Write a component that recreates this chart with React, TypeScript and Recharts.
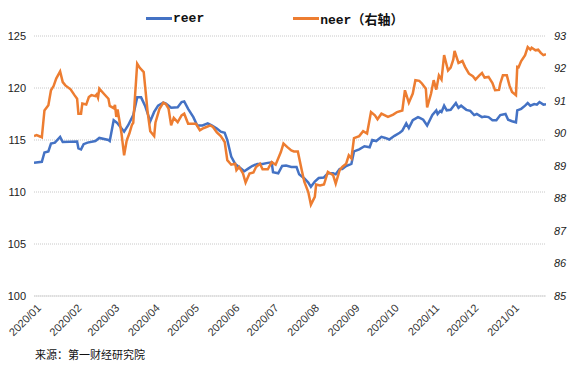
import React from "react";
import { LineChart, Line, XAxis, YAxis, CartesianGrid } from "recharts";

// x values: day offsets from 2020-01-01
const reerDay = [0, 6, 8, 11, 13, 16, 20, 22, 33, 34, 36, 38, 41, 47, 50, 57, 58, 61, 63, 64, 69, 72, 76, 79, 82, 85, 89, 92, 95, 99, 101, 105, 110, 113, 115, 118, 122, 125, 129, 133, 136, 140, 143, 146, 148, 151, 154, 157, 161, 164, 167, 171, 175, 179, 182, 183, 187, 190, 193, 197, 201, 203, 207, 210, 212, 215, 218, 222, 225, 229, 231, 234, 236, 239, 243, 245, 249, 253, 257, 259, 262, 266, 269, 272, 276, 280, 282, 285, 287, 290, 294, 295, 298, 301, 305, 308, 309, 311, 312, 314, 316, 319, 323, 325, 327, 331, 334, 337, 339, 343, 345, 348, 351, 354, 357, 361, 363, 366, 369, 370, 373, 376, 378, 380, 383, 385, 387, 390, 392];
const reerVal = [112.8, 112.9, 113.8, 113.9, 114.65, 114.75, 115.3, 114.8, 114.85, 114.2, 114.1, 114.6, 114.75, 114.9, 115.2, 115.0, 114.9, 116.9, 116.7, 116.6, 115.8, 116.4, 117.4, 119.1, 119.1, 118.3, 116.8, 117.7, 118.3, 118.6, 118.5, 118.1, 118.15, 118.65, 118.7, 118.0, 117.2, 116.4, 116.4, 116.6, 116.4, 116.1, 115.8, 115.7, 115.0, 113.4, 112.7, 112.4, 112.0, 112.25, 112.5, 112.7, 112.7, 112.8, 112.85, 111.9, 111.8, 112.5, 112.55, 112.4, 112.4, 111.7, 111.3, 110.9, 110.5, 111.0, 111.35, 111.4, 111.8, 111.8, 111.7, 112.2, 112.2, 112.5, 112.7, 113.9, 114.1, 114.4, 114.3, 115.0, 114.9, 115.3, 115.2, 115.05, 115.4, 115.7, 115.9, 116.6, 116.15, 116.9, 117.2, 117.15, 116.95, 116.4, 117.4, 117.85, 117.5, 117.8, 117.7, 118.3, 117.85, 117.9, 118.55, 118.1, 118.3, 117.9, 117.8, 117.4, 117.5, 117.2, 117.25, 117.2, 116.9, 116.9, 117.4, 117.5, 116.95, 116.8, 116.7, 117.85, 118.0, 118.3, 118.55, 118.3, 118.45, 118.4, 118.65, 118.4, 118.45];

const neerDay = [0, 2, 5, 6, 8, 11, 13, 15, 17, 20, 22, 24, 28, 31, 33, 34, 36, 37, 40, 42, 44, 47, 48, 49, 50, 54, 57, 58, 61, 62, 63, 64, 67, 69, 71, 73, 75, 76, 79, 81, 84, 85, 87, 89, 92, 93, 96, 99, 101, 103, 105, 107, 110, 113, 115, 118, 124, 127, 129, 132, 135, 137, 140, 143, 146, 148, 151, 154, 155, 157, 160, 162, 165, 168, 170, 173, 175, 179, 182, 185, 189, 191, 194, 197, 199, 202, 205, 207, 210, 212, 215, 216, 219, 222, 225, 227, 229, 231, 234, 236, 239, 241, 243, 245, 249, 252, 255, 258, 261, 263, 266, 271, 275, 278, 282, 284, 287, 290, 292, 295, 297, 300, 301, 304, 306, 308, 310, 312, 314, 317, 319, 321, 322, 325, 328, 330, 333, 336, 338, 341, 343, 345, 348, 351, 353, 356, 357, 359, 362, 364, 366, 369, 370, 371, 373, 376, 378, 380, 381, 384, 386, 388, 390, 392];
const neerVal = [89.92, 89.95, 89.9, 89.88, 90.71, 90.87, 91.33, 91.46, 91.69, 91.91, 91.58, 91.48, 91.36, 91.18, 91.07, 90.61, 90.61, 90.92, 90.89, 91.12, 91.18, 91.15, 91.2, 91.1, 91.38, 91.2, 91.07, 90.85, 90.78, 90.88, 90.51, 90.74, 90.0, 89.33, 89.79, 90.0, 90.27, 90.33, 92.15, 92.02, 91.89, 91.48, 90.66, 90.07, 89.92, 90.34, 90.75, 90.95, 90.9, 90.77, 90.25, 90.48, 90.35, 90.56, 90.61, 90.3, 90.3, 90.1, 90.15, 90.2, 90.25, 90.2, 90.03, 89.92, 89.74, 89.18, 89.04, 89.07, 88.87, 88.97, 88.77, 88.49, 88.77, 88.8, 88.97, 89.07, 88.9, 88.9, 89.12, 89.04, 89.43, 89.69, 89.58, 89.48, 89.45, 89.45, 88.87, 88.51, 88.2, 87.81, 88.05, 88.43, 88.4, 88.43, 88.82, 88.77, 88.72, 88.46, 88.87, 88.97, 89.07, 89.33, 89.23, 89.86, 89.92, 90.07, 90.0, 90.66, 90.56, 90.44, 90.61, 90.51, 90.58, 90.66, 90.71, 91.33, 90.95, 91.23, 91.64, 91.62, 91.54, 91.38, 90.8, 91.23, 91.64, 91.35, 91.79, 91.66, 92.41, 91.94, 92.03, 92.27, 92.54, 92.17, 92.23, 92.05, 91.84, 91.76, 91.66, 91.79, 91.86, 91.72, 91.74, 91.55, 91.33, 91.34, 91.54, 91.79, 91.79, 91.48, 91.28, 91.18, 92.05, 92.04, 92.23, 92.41, 92.66, 92.58, 92.64, 92.56, 92.58, 92.48, 92.41, 92.44];

const monthTickDays = [0, 31, 60, 91, 121, 152, 182, 213, 244, 274, 305, 335, 366];
const monthTickLabels = ["2020/01", "2020/02", "2020/03", "2020/04", "2020/05", "2020/06", "2020/07", "2020/08", "2020/09", "2020/10", "2020/11", "2020/12", "2021/01"];
const leftTicks = [100, 105, 110, 115, 120, 125];
const rightTicks = [85, 86, 87, 88, 89, 90, 91, 92, 93];

const reerName = "reer";
const neerName = "neer（右轴）";
const sourceText = "来源：第一财经研究院";

const BLUE = "#4472C4";
const ORANGE = "#ED7D31";

function zip(days: number[], vals: number[]) {
  const n = Math.min(days.length, vals.length);
  const out: { d: number; v: number }[] = [];
  for (let i = 0; i < n; i++) out.push({ d: days[i], v: vals[i] });
  return out;
}

const reerData = zip(reerDay, reerVal);
const neerData = zip(neerDay, neerVal);

const XTick = (props: any) => {
  const { x, y, payload } = props;
  const idx = monthTickDays.indexOf(payload.value);
  const label = idx >= 0 ? monthTickLabels[idx] : "";
  return (
    <g transform={`translate(${x + 5},${y + 2})`}>
      <text
        textAnchor="end"
        transform="rotate(-45)"
        fontSize={11}
        fill="#333"
        fontFamily="'Liberation Sans', Arial, sans-serif"
        dy="0.35em"
      >
        {label}
      </text>
    </g>
  );
};

export default function App() {
  return (
    <div style={{ position: "absolute", left: 0, top: 0, width: 574, height: 367, background: "#fff" }}>
      <LineChart
        width={574}
        height={367}
        margin={{ top: 36, right: 0, bottom: 0, left: 0 }}
      >
        <CartesianGrid
          yAxisId="left"
          vertical={false}
          stroke="#c8c8c8"
          strokeDasharray="1 1"
        />
        <XAxis
          type="number"
          dataKey="d"
          domain={[0, 392]}
          ticks={monthTickDays}
          tick={<XTick />}
          tickLine={false}
          axisLine={{ stroke: "#d9d9d9", strokeWidth: 1 }}
          height={71}
          interval={0}
          allowDataOverflow
        />
        <YAxis
          yAxisId="left"
          domain={[100, 125]}
          ticks={leftTicks}
          width={34}
          tickLine={false}
          axisLine={false}
          tick={{ fontSize: 11, fill: "#222", fontFamily: "'Liberation Sans', Arial, sans-serif" }}
        />
        <YAxis
          yAxisId="right"
          orientation="right"
          domain={[85, 93]}
          ticks={rightTicks}
          width={28}
          tickLine={false}
          axisLine={false}
          tick={{ fontSize: 11, fill: "#222", fontStyle: "italic", fontFamily: "'Liberation Sans', Arial, sans-serif", textAnchor: "start" }}
        />
        <Line
          yAxisId="left"
          data={reerData}
          dataKey="v"
          name={reerName}
          stroke={BLUE}
          strokeWidth={2.5}
          dot={false}
          isAnimationActive={false}
        />
        <Line
          yAxisId="right"
          data={neerData}
          dataKey="v"
          name={neerName}
          stroke={ORANGE}
          strokeWidth={2.5}
          dot={false}
          isAnimationActive={false}
        />
      </LineChart>
      <div
        style={{
          position: "absolute",
          top: 9,
          left: 146,
          display: "flex",
          alignItems: "center",
          fontFamily: "'Liberation Mono', 'Noto Sans CJK SC', monospace",
          fontWeight: "bold",
          fontSize: 13,
          color: "#111",
          whiteSpace: "nowrap",
        }}
      >
        <span style={{ display: "inline-block", width: 26, height: 3, background: BLUE, marginRight: 1 }} />
        <span>{reerName}</span>
        <span style={{ display: "inline-block", width: 89 }} />
        <span style={{ display: "inline-block", width: 26, height: 3, background: ORANGE, marginRight: 1 }} />
        <span>{neerName}</span>
      </div>
      <div
        style={{
          position: "absolute",
          top: 346,
          left: 35,
          fontFamily: "'Noto Sans CJK SC', sans-serif",
          fontSize: 11,
          color: "#111",
          whiteSpace: "nowrap",
        }}
      >
        {sourceText}
      </div>
    </div>
  );
}
